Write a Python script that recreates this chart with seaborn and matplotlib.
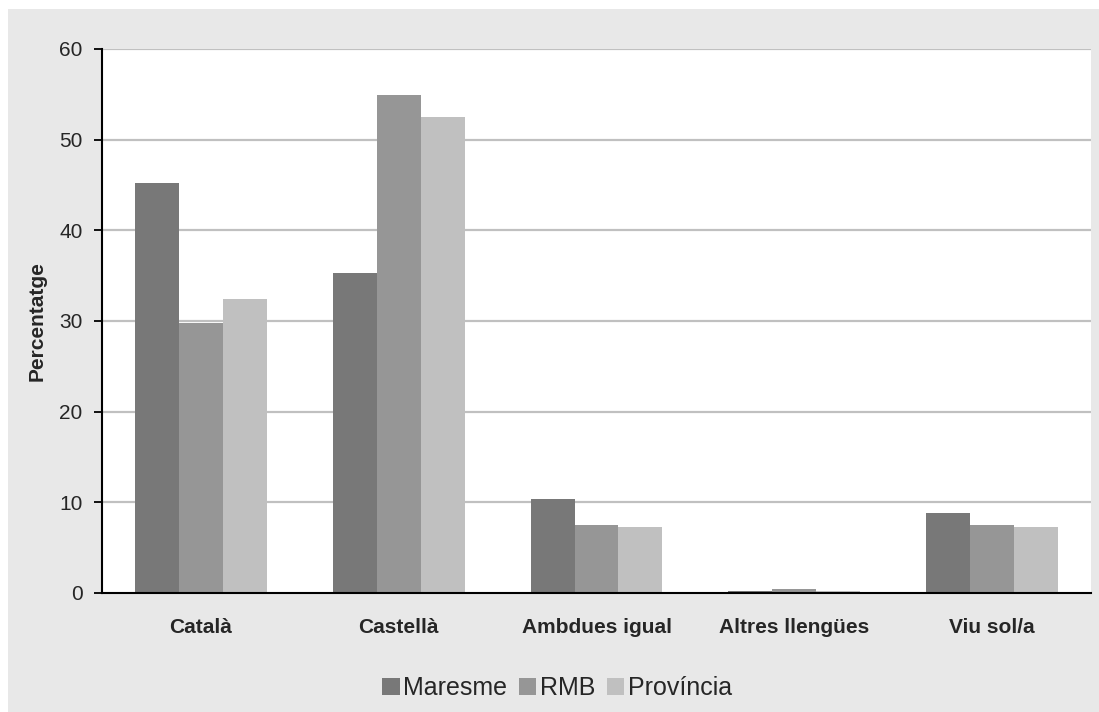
import matplotlib
matplotlib.use("Agg")
import matplotlib.pyplot as plt
import matplotlib.patches as mpatches
import seaborn as sns
import pandas as pd
import numpy as np

categories = ["Català", "Castellà", "Ambdues igual", "Altres llengües", "Viu sol/a"]
series = ["Maresme", "RMB", "Província"]
maresme = [45.2, 35.3, 10.4, 0.2, 8.8]
rmb = [29.8, 54.9, 7.5, 0.45, 7.5]
provincia = [32.4, 52.5, 7.3, 0.2, 7.3]
yticks = [0, 10, 20, 30, 40, 50, 60]
colors = ["#787878", "#969696", "#c0c0c0"]

df = pd.DataFrame({
    "cat": categories * 3,
    "serie": [series[0]] * 5 + [series[1]] * 5 + [series[2]] * 5,
    "val": maresme + rmb + provincia,
})

sns.set_theme(style="white")
plt.rcParams["font.family"] = ["Liberation Sans", "DejaVu Sans"]

fig = plt.figure(figsize=(10.99, 7.12), dpi=100)
fig.patch.set_facecolor("white")
fig.patches.append(mpatches.Rectangle((8 / 1099, -0.01), 1.01, 1.01 - 9 / 712,
                                      transform=fig.transFigure, facecolor="#e8e8e8",
                                      edgecolor="none", zorder=-10))
ax = fig.add_axes([102 / 1099, 1 - 593 / 712, (1091 - 102) / 1099, (593 - 49) / 712])
ax.set_facecolor("white")

sns.barplot(data=df, x="cat", y="val", hue="serie", order=categories, hue_order=series,
            palette=colors, width=0.667, gap=0, saturation=1, edgecolor="none",
            linewidth=0, ax=ax, legend=True)

ax.set_ylim(0, 60)
ax.set_xlim(-0.5, 4.5)
ax.set_yticks(yticks)
ax.set_yticklabels([str(t) for t in yticks], fontsize=15)
for t in yticks[1:]:
    ax.axhline(t, color="#c0c0c0", lw=1.6, zorder=0)

ax.set_xticks(range(5))
ax.set_xticklabels(categories, fontsize=15, fontweight="bold")
ax.set_xticks(np.arange(-0.5, 5, 1), minor=True)
ax.tick_params(axis="x", which="major", length=0, pad=18)
ax.tick_params(axis="x", which="minor", length=6, width=1.3, color="black", direction="out")
ax.tick_params(axis="y", length=6, width=1.3, color="black", direction="out", pad=8, left=True)
ax.set_xlabel("")
ax.set_ylabel("Percentatge", fontsize=15, fontweight="bold", labelpad=9)

for s in ["top", "right"]:
    ax.spines[s].set_visible(False)
for s in ["left", "bottom"]:
    ax.spines[s].set_color("black")
    ax.spines[s].set_linewidth(1.5)

ax.legend_.remove()
handles = [mpatches.Patch(facecolor=c, edgecolor="none") for c in colors]
fig.legend(handles, series, loc="center", bbox_to_anchor=(557 / 1099, 1 - 688 / 712),
           ncol=3, frameon=False, fontsize=18, handlelength=0.7, handleheight=0.7,
           handletextpad=0.15, columnspacing=0.45, borderpad=0.2)

fig.savefig("out.png", dpi=100, facecolor=fig.get_facecolor())
